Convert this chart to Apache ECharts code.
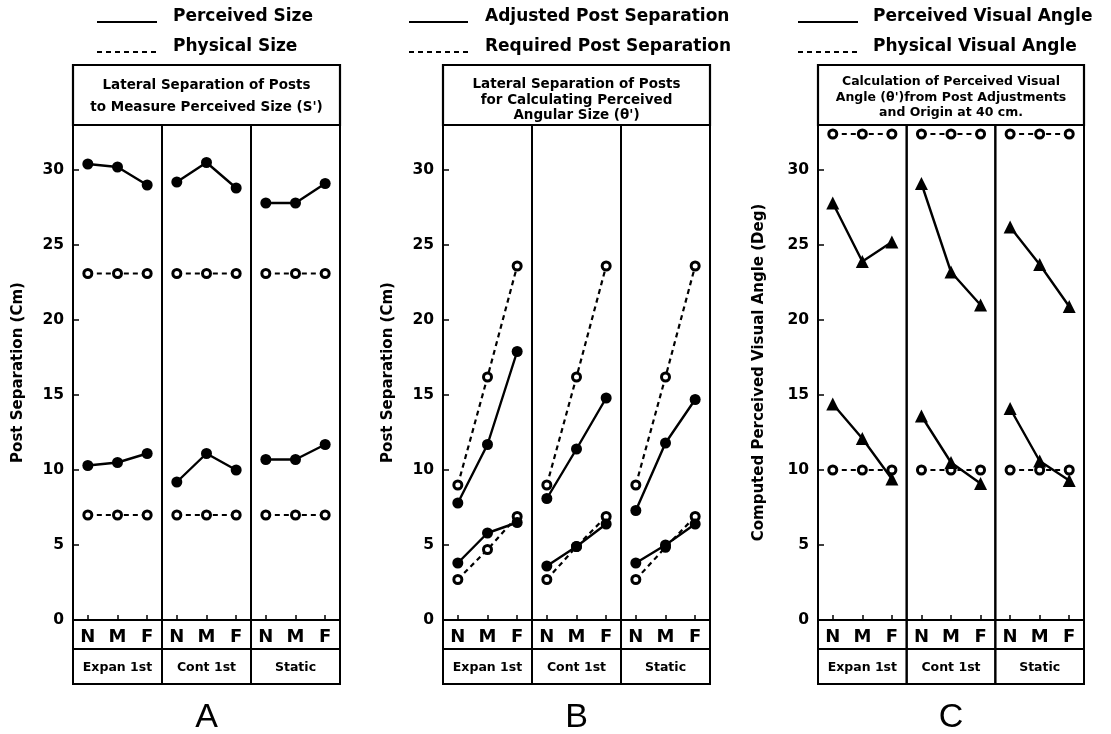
<!DOCTYPE html>
<html>
<head>
<meta charset="utf-8">
<script src="https://cdn.jsdelivr.net/npm/echarts@6/dist/echarts.min.js"></script>
<style>
  html, body { margin: 0; padding: 0; background: #fff; }
  #chart { width: 1111px; height: 734px; }
</style>
</head>
<body>
<div id="chart"></div>
<script>
// categories
const distances = ["N", "M", "F"];
const conditions = ["Expan 1st", "Cont 1st", "Static"];

// A: lateral separation of posts (cm), rows = conditions
const aPerceivedLarge = [[30.4, 30.2, 29.0], [29.2, 30.5, 28.8], [27.8, 27.8, 29.1]];
const aPerceivedSmall = [[10.3, 10.5, 11.1], [9.2, 11.1, 10.0], [10.7, 10.7, 11.7]];
const aPhysicalLarge = [[23.1, 23.1, 23.1], [23.1, 23.1, 23.1], [23.1, 23.1, 23.1]];
const aPhysicalSmall = [[7.0, 7.0, 7.0], [7.0, 7.0, 7.0], [7.0, 7.0, 7.0]];

// B: post separation for angular size (cm)
const bAdjustedLarge = [[7.8, 11.7, 17.9], [8.1, 11.4, 14.8], [7.3, 11.8, 14.7]];
const bAdjustedSmall = [[3.8, 5.8, 6.5], [3.6, 4.9, 6.4], [3.8, 5.0, 6.4]];
const bRequiredLarge = [[9.0, 16.2, 23.6], [9.0, 16.2, 23.6], [9.0, 16.2, 23.6]];
const bRequiredSmall = [[2.7, 4.7, 6.9], [2.7, 4.9, 6.9], [2.7, 4.85, 6.9]];

// C: visual angle (deg)
const cPerceivedLarge = [[27.8, 23.9, 25.2], [29.1, 23.2, 21.0], [26.2, 23.7, 20.9]];
const cPerceivedSmall = [[14.4, 12.1, 9.4], [13.6, 10.5, 9.1], [14.1, 10.6, 9.3]];
const cPhysicalLarge = [[32.4, 32.4, 32.4], [32.4, 32.4, 32.4], [32.4, 32.4, 32.4]];
const cPhysicalSmall = [[10.0, 10.0, 10.0], [10.0, 10.0, 10.0], [10.0, 10.0, 10.0]];

const yTicks = [0, 5, 10, 15, 20, 25, 30];

// layout
const FONT = "DejaVu Sans";
const PLOT_TOP = 125, PLOT_BOTTOM = 620, BOX_TOP = 65, ROW1 = 649, ROW2 = 684;
const panels = [
  {
    left: 73, right: 340, letter: "A",
    yName: "Post Separation (Cm)", yNameGap: 47,
    legend: { x1: 97, x2: 157, tx: 173, solid: "Perceived Size", dashed: "Physical Size" },
    title: "Lateral Separation of Posts\nto Measure Perceived Size (S')", titleSize: 13.5, titleY: 96.5, titleLH: 22,
    solidSym: "circle", solidSize: 11,
    series: [aPerceivedLarge, aPerceivedSmall, aPhysicalLarge, aPhysicalSmall]
  },
  {
    left: 443, right: 710, letter: "B",
    yName: "Post Separation (Cm)", yNameGap: 47,
    legend: { x1: 409, x2: 468, tx: 485, solid: "Adjusted Post Separation", dashed: "Required Post Separation" },
    title: "Lateral Separation of Posts\nfor Calculating Perceived\nAngular Size (\u03b8')", titleSize: 13.5, titleY: 100, titleLH: 15.5,
    solidSym: "circle", solidSize: 11,
    series: [bAdjustedLarge, bAdjustedSmall, bRequiredLarge, bRequiredSmall]
  },
  {
    left: 818, right: 1084, letter: "C",
    yName: "Computed Perceived Visual Angle (Deg)", yNameGap: 51,
    legend: { x1: 798, x2: 858, tx: 873, solid: "Perceived Visual Angle", dashed: "Physical Visual Angle" },
    title: "Calculation of Perceived Visual\nAngle (\u03b8')from Post Adjustments\nand Origin at 40 cm.", titleSize: 12.5, titleY: 97.5, titleLH: 15.5,
    solidSym: "triangle", solidSize: 13,
    series: [cPerceivedLarge, cPerceivedSmall, cPhysicalLarge, cPhysicalSmall]
  }
];

const grid = [], xAxis = [], yAxis = [], series = [], graphic = [];

panels.forEach((p, pi) => {
  const w = (p.right - p.left) / 3;
  conditions.forEach((cond, ci) => {
    const gi = pi * 3 + ci;
    const left = p.left + w * ci;
    grid.push({
      left: left, top: PLOT_TOP, width: w, height: PLOT_BOTTOM - PLOT_TOP,
      show: true, borderColor: "#000", borderWidth: 2, backgroundColor: "transparent"
    });
    xAxis.push({
      type: "category", gridIndex: gi, data: distances, boundaryGap: true,
      axisLine: { show: false },
      axisTick: { show: true, inside: true, length: 5, alignWithLabel: true, lineStyle: { color: "#000", width: 1.5 } },
      axisLabel: { margin: 8, color: "#000", fontFamily: FONT, fontWeight: "bold", fontSize: 18 },
      name: cond, nameLocation: "middle", nameGap: 41,
      nameTextStyle: { color: "#000", fontFamily: FONT, fontWeight: "bold", fontSize: 12.5 },
      splitLine: { show: false }
    });
    const first = ci === 0;
    yAxis.push({
      type: "value", gridIndex: gi, min: 0, max: 33, interval: 5,
      show: first,
      axisLine: { show: false },
      axisTick: { show: true, inside: true, length: 6, lineStyle: { color: "#000", width: 1.5 } },
      axisLabel: {
        margin: 9, color: "#000", fontFamily: FONT, fontWeight: "bold", fontSize: 15.5,
        showMaxLabel: false,
        formatter: (v) => (yTicks.indexOf(v) >= 0 ? String(v) : "")
      },
      splitLine: { show: false },
      name: first ? p.yName : "", nameLocation: "middle", nameGap: p.yNameGap,
      nameTextStyle: { color: "#000", fontFamily: FONT, fontWeight: "bold", fontSize: 15 }
    });

    const [solidL, solidS, dashL, dashS] = p.series;
    [solidL, solidS].forEach((arr) => {
      series.push({
        type: "line", xAxisIndex: gi, yAxisIndex: gi, data: arr[ci],
        symbol: p.solidSym, symbolSize: p.solidSize,
        itemStyle: { color: "#000" },
        lineStyle: { color: "#000", width: 2.4 },
        z: 3
      });
    });
    [dashL, dashS].forEach((arr) => {
      series.push({
        type: "line", xAxisIndex: gi, yAxisIndex: gi, data: arr[ci],
        symbol: "circle", symbolSize: 8, showSymbol: true,
        itemStyle: { color: "#fff", borderColor: "#000", borderWidth: 3 },
        lineStyle: { color: "#000", width: 2.2, type: [5, 4] },
        z: 2
      });
    });

    // label rows under each sub-panel
    graphic.push({
      type: "rect", shape: { x: left, y: PLOT_BOTTOM, width: w, height: ROW1 - PLOT_BOTTOM },
      style: { fill: "none", stroke: "#000", lineWidth: 2 }
    });
    graphic.push({
      type: "rect", shape: { x: left, y: ROW1, width: w, height: ROW2 - ROW1 },
      style: { fill: "none", stroke: "#000", lineWidth: 2 }
    });
  });

  // title box
  graphic.push({
    type: "rect", shape: { x: p.left, y: BOX_TOP, width: p.right - p.left, height: PLOT_TOP - BOX_TOP },
    style: { fill: "none", stroke: "#000", lineWidth: 2.2 }
  });
  graphic.push({
    type: "text", x: (p.left + p.right) / 2, y: p.titleY,
    style: {
      text: p.title, align: "center", verticalAlign: "middle", fill: "#000",
      fontFamily: FONT, fontWeight: "bold", fontSize: p.titleSize, lineHeight: p.titleLH
    }
  });

  // legend
  const lg = p.legend;
  graphic.push({
    type: "line", shape: { x1: lg.x1, y1: 22, x2: lg.x2, y2: 22 },
    style: { stroke: "#000", lineWidth: 2 }
  });
  graphic.push({
    type: "line", shape: { x1: lg.x1, y1: 52, x2: lg.x2, y2: 52 },
    style: { stroke: "#000", lineWidth: 2, lineDash: [5, 4] }
  });
  graphic.push({
    type: "text", x: lg.tx, y: 17,
    style: { text: lg.solid, align: "left", verticalAlign: "middle", fill: "#000", fontFamily: FONT, fontWeight: "bold", fontSize: 17 }
  });
  graphic.push({
    type: "text", x: lg.tx, y: 47,
    style: { text: lg.dashed, align: "left", verticalAlign: "middle", fill: "#000", fontFamily: FONT, fontWeight: "bold", fontSize: 17 }
  });

  // panel letter
  graphic.push({
    type: "text", x: (p.left + p.right) / 2, y: 718,
    style: { text: p.letter, align: "center", verticalAlign: "middle", fill: "#000", fontFamily: "Liberation Sans", fontSize: 34 }
  });
});

const chart = echarts.init(document.getElementById("chart"));
chart.setOption({
  animation: false,
  backgroundColor: "#fff",
  grid: grid,
  xAxis: xAxis,
  yAxis: yAxis,
  series: series,
  graphic: graphic
});
</script>
</body>
</html>
